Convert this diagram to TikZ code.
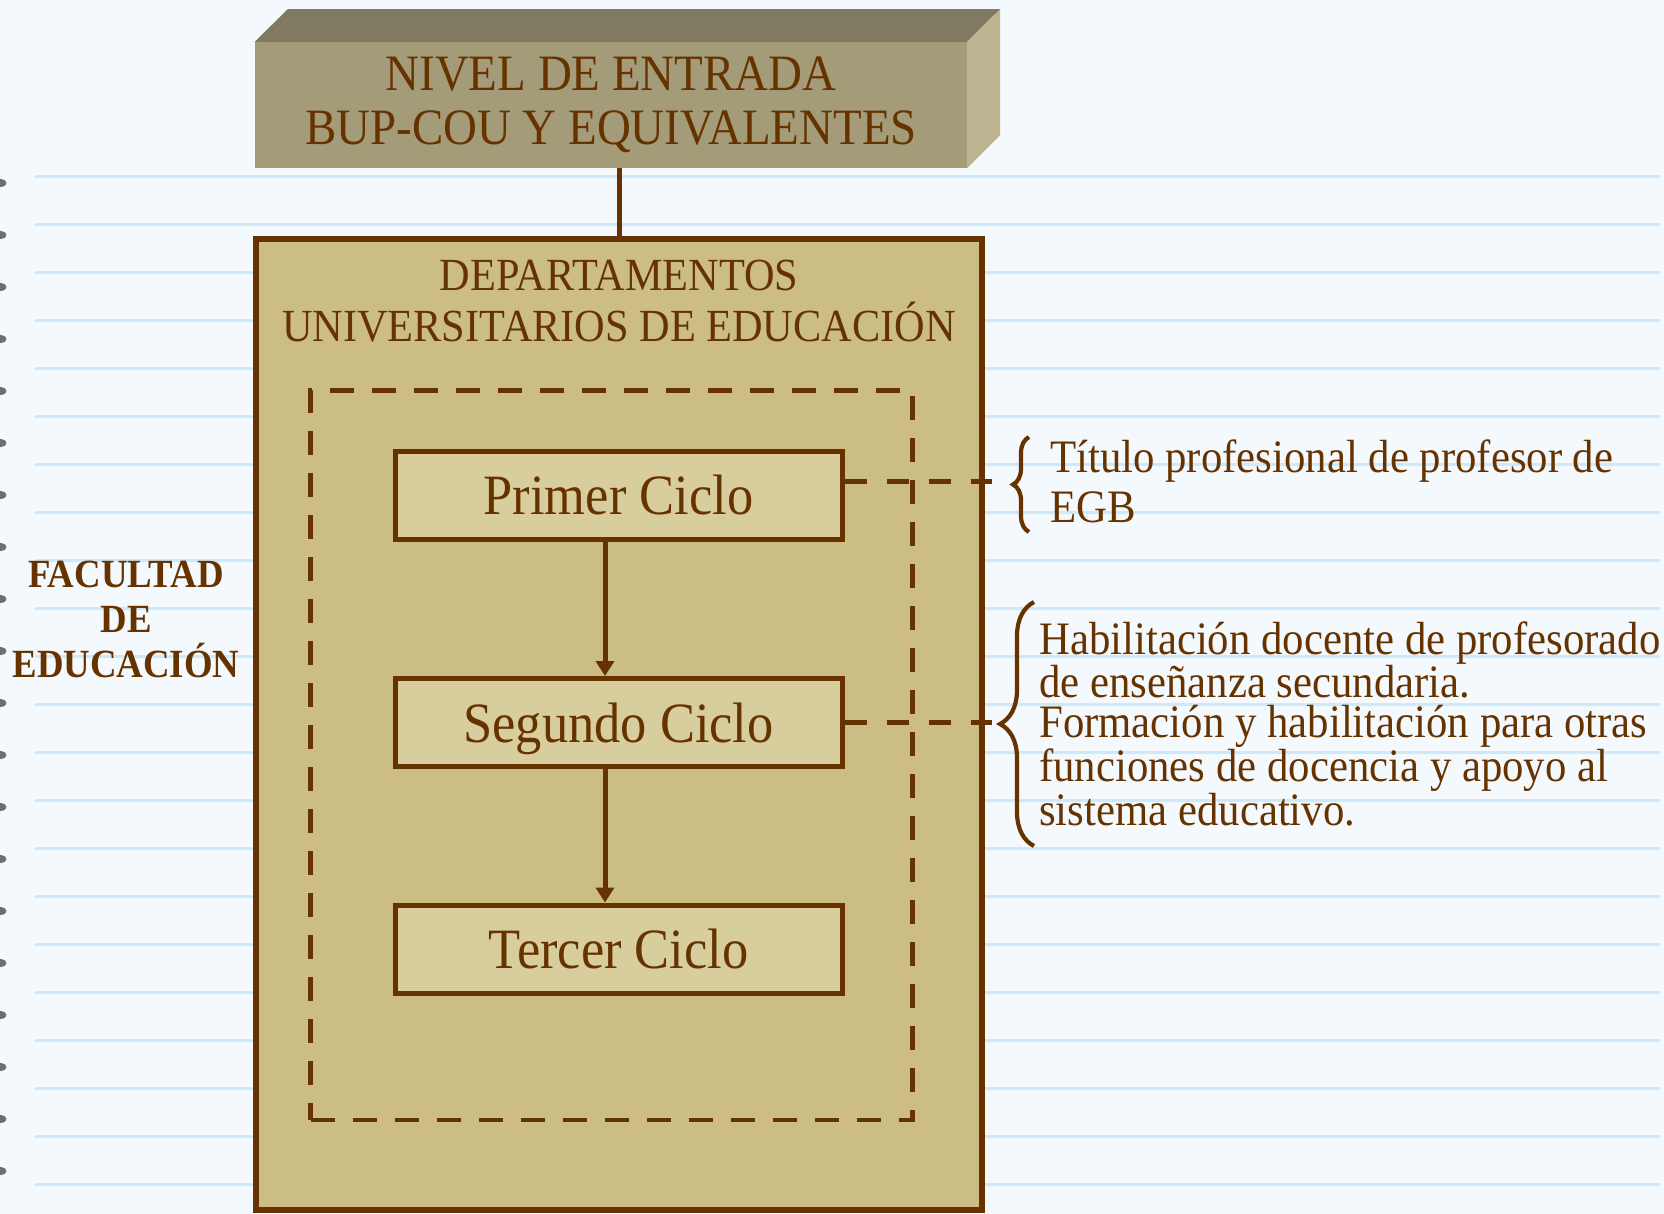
\documentclass[tikz,border=0pt]{standalone}
\usepackage{fontspec}
\setmainfont{Liberation Serif}[FakeStretch=0.92]
\usetikzlibrary{arrows.meta,decorations.pathreplacing}
\definecolor{brn}{HTML}{663300}
\definecolor{bgc}{HTML}{F4F9FD}
\definecolor{rulec}{HTML}{CDE9FA}
\definecolor{frontc}{HTML}{A49B78}
\definecolor{topc}{HTML}{7F7A61}
\definecolor{sidec}{HTML}{BDB591}
\definecolor{deptc}{HTML}{CBBD84}
\definecolor{cicloc}{HTML}{D8CD9D}
\begin{document}
\begin{tikzpicture}[x=1pt,y=-1pt,
  entradastyle/.style={fill=frontc, minimum width=712pt, minimum height=126pt, inner sep=0pt, align=center, text=brn, font=\fontsize{51pt}{54.5pt}\selectfont},
  deptstyle/.style={draw=brn, fill=deptc, line width=5.5pt, minimum width=726pt, minimum height=971pt, inner sep=0pt},
  titlestyle/.style={inner sep=0pt, align=center, text=brn, font=\fontsize{46pt}{51pt}\selectfont},
  dashbox/.style={draw=brn, line width=4.5pt, dash pattern=on 24pt off 18pt, minimum width=602pt, minimum height=729.5pt, inner sep=0pt},
  cyclebox/.style={draw=brn, line width=5pt, fill=cicloc, minimum width=447pt, minimum height=88pt, inner sep=0pt, text depth=0pt, text=brn, font=\fontsize{57pt}{60pt}\selectfont},
  arr/.style={draw=brn, line width=5pt, -{Triangle[width=18pt,length=15pt]}},
  dashlink/.style={draw=brn, line width=5pt, dash pattern=on 22pt off 20pt},
  bracestyle/.style={draw=brn, line width=4.2pt, decorate, decoration={brace, amplitude=#1}},
  sidetext/.style={inner sep=0pt, align=left, text=brn, anchor=base west},
  lefttext/.style={inner sep=0pt, align=center, text=brn, font=\fontsize{40pt}{45pt}\selectfont\bfseries}
]
\useasboundingbox (0,0) rectangle (1664,1214);
\clip (0,0) rectangle (1664,1214);
\fill[bgc] (0,0) rectangle (1664,1214);
\foreach \k in {0,...,21}
  \draw[rulec, line width=2.5pt] (35,{176.7+48*\k}) -- (1660,{176.7+48*\k});
\foreach \yy in {183,235,287,339,391,443,495,547,599,651,703,755,807,859,911,963,1015,1067,1119,1171}
  \fill[black!80, opacity=0.7] (1,\yy) ellipse (5.5pt and 4pt);

% entry box (3D)
\node[entradastyle] (entrada) at (611,105) {NIVEL DE ENTRADA\\BUP-COU Y EQUIVALENTES};
\fill[topc] (entrada.north west) -- ++(33,-32.7) -- ([shift={(33,-32.7)}]entrada.north east) -- (entrada.north east) -- cycle;
\fill[sidec] (entrada.north east) -- ++(33,-32.7) -- ++(0,126) -- (entrada.south east) -- cycle;

% department box
\node[deptstyle] (dept) at (619,724.5) {};
\draw[brn, line width=5pt] (dept.north |- entrada.south) -- (dept.north);
\node[titlestyle] (depttitle) at (619,301.5) {DEPARTAMENTOS\\UNIVERSITARIOS DE EDUCACIÓN};

\node[dashbox] (inner) at (611.7,755) {};

\node[cyclebox] (primer) at (618.5,495) {Primer Ciclo};
\node[cyclebox] (segundo) at (618.5,722.5) {Segundo Ciclo};
\node[cyclebox] (tercer) at (618.5,949) {Tercer Ciclo};

\draw[arr] ([xshift=-13.5pt]primer.south) -- ([xshift=-13.5pt]segundo.north);
\draw[arr] ([xshift=-13.5pt]segundo.south) -- ([xshift=-13.5pt]tercer.north);

\coordinate (end1) at (992,481.5);
\coordinate (end2) at (992,722.5);
\draw[dashlink] ([yshift=13.5pt]primer.east) -- (end1);
\draw[dashlink] (segundo.east) -- (end2);

\coordinate (b1bot) at (1029,532);
\coordinate (b1top) at (1029,437);
\coordinate (b2bot) at (1034,846);
\coordinate (b2top) at (1034,602);
\draw[bracestyle=16pt] (b1bot) -- (b1top);
\draw[bracestyle=34pt] (b2bot) -- (b2top);

\node[sidetext, font=\fontsize{46.5pt}{50pt}\selectfont] (titulo) at (1050,522) {Título profesional de profesor de\\EGB};
\node[sidetext, font=\fontsize{46.5pt}{40.5pt}\selectfont] (habil) at (1039,825) {Habilitación docente de profesorado\\de enseñanza secundaria.\\Formación y habilitación para otras\\funciones de docencia y apoyo al\\sistema educativo.};

\node[lefttext] (facultad) at (126,619) {FACULTAD\\DE\\EDUCACIÓN};
\end{tikzpicture}
\end{document}
